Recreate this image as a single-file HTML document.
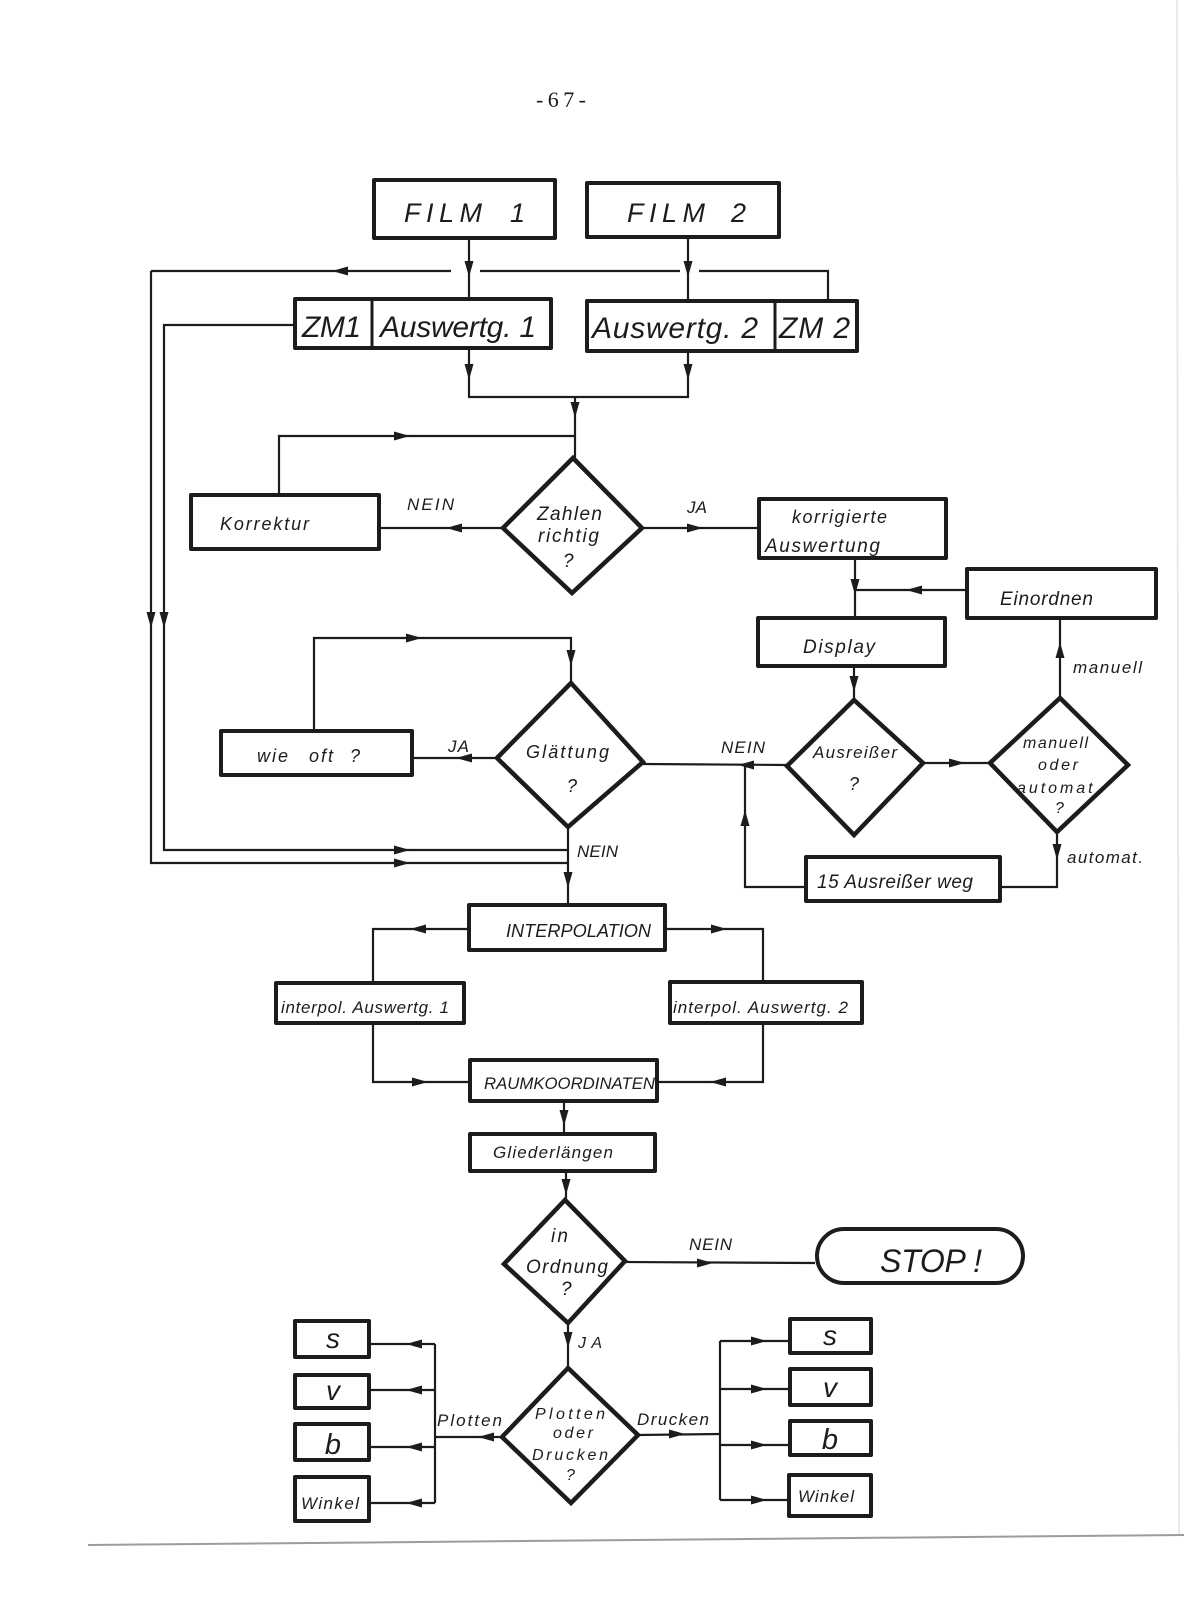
<!DOCTYPE html>
<html>
<head>
<meta charset="utf-8">
<style>
html,body{margin:0;padding:0;background:#fff;}
svg{display:block;}
text{font-family:"Liberation Sans",sans-serif;font-style:italic;fill:#1c1c1c;}
.s{font-family:"Liberation Serif",serif;font-style:normal;}
</style>
</head>
<body>
<svg width="1200" height="1614" viewBox="0 0 1200 1614" xmlns="http://www.w3.org/2000/svg">
<rect width="1200" height="1614" fill="#fff"/>
<!-- scan edges -->
<line x1="1177" y1="0" x2="1179" y2="1535" stroke="#e8e8e8" stroke-width="2"/>
<line x1="88" y1="1545" x2="1184" y2="1535" stroke="#9c9c9c" stroke-width="2"/>

<text class="s" x="536" y="107" font-size="22" textLength="50">-67-</text>

<!-- connectors -->
<g fill="none" stroke="#1c1c1c" stroke-width="2.2">
<polyline points="469,240 469,297"/>
<polyline points="688,239 688,299"/>
<polyline points="151,271 451,271"/>
<polyline points="480,271 680,271"/>
<polyline points="699,271 828,271 828,299"/>
<polyline points="151,271 151,863 568,863"/>
<polyline points="293,325 164,325 164,850 568,850"/>
<polyline points="469,350 469,397 688,397 688,353"/>
<polyline points="575,397 575,458"/>
<polyline points="279,493 279,436 575,436"/>
<polyline points="503,528 381,528"/>
<polyline points="642,528 757,528"/>
<polyline points="855,560 855,616"/>
<polyline points="965,590 855,590"/>
<polyline points="854,668 854,700"/>
<polyline points="923,763 990,763"/>
<polyline points="1060,698 1060,620"/>
<polyline points="1057,832 1057,887 1002,887"/>
<polyline points="804,887 745,887 745,765"/>
<polyline points="787,765 643,764"/>
<polyline points="314,729 314,638 571,638 571,683"/>
<polyline points="497,758 414,758"/>
<polyline points="568,827 568,903"/>
<polyline points="467,929 373,929 373,981"/>
<polyline points="667,929 763,929 763,980"/>
<polyline points="373,1025 373,1082 468,1082"/>
<polyline points="763,1025 763,1082 659,1082"/>
<polyline points="564,1103 564,1132"/>
<polyline points="566,1173 566,1200"/>
<polyline points="625,1262 815,1263"/>
<polyline points="568,1323 568,1368"/>
<polyline points="502,1437 435,1437"/>
<polyline points="435,1344 435,1503"/>
<polyline points="435,1344 371,1344"/>
<polyline points="435,1390 371,1390"/>
<polyline points="435,1447 371,1447"/>
<polyline points="435,1503 371,1503"/>
<polyline points="638,1435 720,1434"/>
<polyline points="720,1341 720,1500"/>
<polyline points="720,1341 788,1341"/>
<polyline points="720,1389 788,1389"/>
<polyline points="720,1445 788,1445"/>
<polyline points="720,1500 787,1500"/>
</g>

<!-- arrowheads -->
<g fill="#1c1c1c">
<!-- down -->
<polygon points="469,277 464.5,261 473.5,261"/>
<polygon points="688,277 683.5,261 692.5,261"/>
<polygon points="469,380 464.5,364 473.5,364"/>
<polygon points="688,380 683.5,364 692.5,364"/>
<polygon points="575,418 570.5,402 579.5,402"/>
<polygon points="151,628 146.5,612 155.5,612"/>
<polygon points="164,628 159.5,612 168.5,612"/>
<polygon points="855,595 850.5,579 859.5,579"/>
<polygon points="854,692 849.5,676 858.5,676"/>
<polygon points="1057,860 1052.5,844 1061.5,844"/>
<polygon points="571,666 566.5,650 575.5,650"/>
<polygon points="568,888 563.5,872 572.5,872"/>
<polygon points="564,1126 559.5,1110 568.5,1110"/>
<polygon points="566,1195 561.5,1179 570.5,1179"/>
<polygon points="568,1348 563.5,1332 572.5,1332"/>
<!-- up -->
<polygon points="1060,642 1055.5,658 1064.5,658"/>
<polygon points="745,810 740.5,826 749.5,826"/>
<!-- left -->
<polygon points="332,271 348,266.5 348,275.5"/>
<polygon points="446,528 462,523.5 462,532.5"/>
<polygon points="906,590 922,585.5 922,594.5"/>
<polygon points="738,765 754,760.5 754,769.5"/>
<polygon points="456,758 472,753.5 472,762.5"/>
<polygon points="410,929 426,924.5 426,933.5"/>
<polygon points="710,1082 726,1077.5 726,1086.5"/>
<polygon points="478,1437 494,1432.5 494,1441.5"/>
<polygon points="406,1344 422,1339.5 422,1348.5"/>
<polygon points="406,1390 422,1385.5 422,1394.5"/>
<polygon points="406,1447 422,1442.5 422,1451.5"/>
<polygon points="406,1503 422,1498.5 422,1507.5"/>
<!-- right -->
<polygon points="410,863 394,858.5 394,867.5"/>
<polygon points="410,850 394,845.5 394,854.5"/>
<polygon points="410,436 394,431.5 394,440.5"/>
<polygon points="703,528 687,523.5 687,532.5"/>
<polygon points="965,763 949,758.5 949,767.5"/>
<polygon points="422,638 406,633.5 406,642.5"/>
<polygon points="727,929 711,924.5 711,933.5"/>
<polygon points="428,1082 412,1077.5 412,1086.5"/>
<polygon points="713,1263 697,1258.5 697,1267.5"/>
<polygon points="685,1434 669,1429.5 669,1438.5"/>
<polygon points="767,1341 751,1336.5 751,1345.5"/>
<polygon points="767,1389 751,1384.5 751,1393.5"/>
<polygon points="767,1445 751,1440.5 751,1449.5"/>
<polygon points="767,1500 751,1495.5 751,1504.5"/>
</g>

<!-- boxes -->
<g fill="#fff" stroke="#1c1c1c" stroke-width="4" stroke-linejoin="round">
<rect x="374" y="180" width="181" height="58"/>
<rect x="587" y="183" width="192" height="54"/>
<rect x="295" y="299" width="256" height="49"/>
<rect x="587" y="301" width="270" height="50"/>
<rect x="191" y="495" width="188" height="54"/>
<rect x="759" y="499" width="187" height="59"/>
<rect x="967" y="569" width="189" height="49"/>
<rect x="758" y="618" width="187" height="48"/>
<rect x="221" y="731" width="191" height="44"/>
<rect x="806" y="857" width="194" height="44"/>
<rect x="469" y="905" width="196" height="45"/>
<rect x="276" y="983" width="188" height="40"/>
<rect x="670" y="982" width="192" height="41"/>
<rect x="470" y="1060" width="187" height="41"/>
<rect x="470" y="1134" width="185" height="37"/>
<rect x="817" y="1229" width="206" height="54" rx="27" ry="27"/>
<rect x="295" y="1321" width="74" height="36"/>
<rect x="295" y="1375" width="74" height="33"/>
<rect x="295" y="1424" width="74" height="36"/>
<rect x="295" y="1477" width="74" height="44"/>
<rect x="790" y="1319" width="81" height="34"/>
<rect x="790" y="1369" width="81" height="36"/>
<rect x="790" y="1421" width="81" height="34"/>
<rect x="789" y="1475" width="82" height="41"/>
</g>
<g stroke="#1c1c1c" stroke-width="3">
<line x1="372" y1="299" x2="372" y2="348"/>
<line x1="775" y1="301" x2="775" y2="351"/>
</g>

<!-- diamonds -->
<g fill="#fff" stroke="#1c1c1c" stroke-width="4.5" stroke-linejoin="miter">
<polygon points="573,458 642,528 572,593 503,528"/>
<polygon points="571,683 643,762 568,827 497,758"/>
<polygon points="854,700 923,763 854,835 787,766"/>
<polygon points="1060,698 1128,765 1057,832 990,763"/>
<polygon points="565,1200 625,1261 568,1323 504,1264"/>
<polygon points="568,1368 638,1435 571,1503 502,1437"/>
</g>

<!-- labels -->
<text x="404" y="222" font-size="27" textLength="78">FILM</text>
<text x="510" y="222" font-size="27">1</text>
<text x="627" y="222" font-size="27" textLength="78">FILM</text>
<text x="731" y="222" font-size="27">2</text>
<text x="302" y="337" font-size="30" textLength="59">ZM1</text>
<text x="380" y="337" font-size="30" textLength="156">Auswertg. 1</text>
<text x="592" y="338" font-size="30" textLength="166">Auswertg. 2</text>
<text x="779" y="338" font-size="30" textLength="71">ZM 2</text>
<text x="220" y="530" font-size="18" textLength="89">Korrektur</text>
<text x="407" y="510" font-size="17" textLength="47">NEIN</text>
<text x="537" y="520" font-size="19" textLength="65">Zahlen</text>
<text x="538" y="542" font-size="19" textLength="61">richtig</text>
<text x="563" y="567" font-size="19">?</text>
<text x="687" y="513" font-size="17" textLength="20">JA</text>
<text x="792" y="523" font-size="18" textLength="95">korrigierte</text>
<text x="765" y="552" font-size="19" textLength="115">Auswertung</text>
<text x="1000" y="605" font-size="19" textLength="93">Einordnen</text>
<text x="803" y="653" font-size="19" textLength="72">Display</text>
<text x="1073" y="673" font-size="17" textLength="69">manuell</text>
<text x="721" y="753" font-size="17" textLength="44">NEIN</text>
<text x="813" y="758" font-size="17" textLength="84">Ausreißer</text>
<text x="849" y="790" font-size="18">?</text>
<text x="1023" y="748" font-size="16" textLength="65">manuell</text>
<text x="1038" y="770" font-size="16" textLength="40">oder</text>
<text x="1017" y="793" font-size="16" textLength="83">automat.</text>
<text x="1055" y="813" font-size="16">?</text>
<text x="1067" y="863" font-size="17" textLength="76">automat.</text>
<text x="817" y="888" font-size="19" textLength="156">15 Ausreißer weg</text>
<text x="526" y="758" font-size="18" textLength="83">Glättung</text>
<text x="567" y="792" font-size="18">?</text>
<text x="448" y="752" font-size="17" textLength="21">JA</text>
<text x="257" y="762" font-size="18" textLength="31">wie</text>
<text x="309" y="762" font-size="18" textLength="24">oft</text>
<text x="350" y="762" font-size="18">?</text>
<text x="577" y="857" font-size="17" textLength="41">NEIN</text>
<text x="506" y="937" font-size="18" textLength="145" lengthAdjust="spacingAndGlyphs">INTERPOLATION</text>
<text x="281" y="1013" font-size="17" textLength="168">interpol. Auswertg. 1</text>
<text x="673" y="1013" font-size="17" textLength="175">interpol. Auswertg. 2</text>
<text x="484" y="1089" font-size="17" textLength="171" lengthAdjust="spacingAndGlyphs">RAUMKOORDINATEN</text>
<text x="493" y="1158" font-size="17" textLength="120">Gliederlängen</text>
<text x="551" y="1242" font-size="19" textLength="17">in</text>
<text x="526" y="1273" font-size="19" textLength="82">Ordnung</text>
<text x="561" y="1295" font-size="19">?</text>
<text x="689" y="1250" font-size="17" textLength="43">NEIN</text>
<text x="880" y="1272" font-size="32" textLength="102">STOP !</text>
<text x="578" y="1348" font-size="16" textLength="24">JA</text>
<text x="535" y="1419" font-size="16" textLength="70">Plotten</text>
<text x="553" y="1438" font-size="16" textLength="40">oder</text>
<text x="532" y="1460" font-size="16" textLength="76">Drucken</text>
<text x="566" y="1480" font-size="16">?</text>
<text x="437" y="1426" font-size="17" textLength="65">Plotten</text>
<text x="637" y="1425" font-size="17" textLength="72">Drucken</text>
<text x="333" y="1348" font-size="28" text-anchor="middle">s</text>
<text x="333" y="1400" font-size="28" text-anchor="middle">v</text>
<text x="333" y="1454" font-size="29" text-anchor="middle">b</text>
<text x="301" y="1509" font-size="17" textLength="58">Winkel</text>
<text x="830" y="1345" font-size="28" text-anchor="middle">s</text>
<text x="830" y="1397" font-size="28" text-anchor="middle">v</text>
<text x="830" y="1449" font-size="29" text-anchor="middle">b</text>
<text x="798" y="1502" font-size="17" textLength="56">Winkel</text>
</svg>
</body>
</html>
